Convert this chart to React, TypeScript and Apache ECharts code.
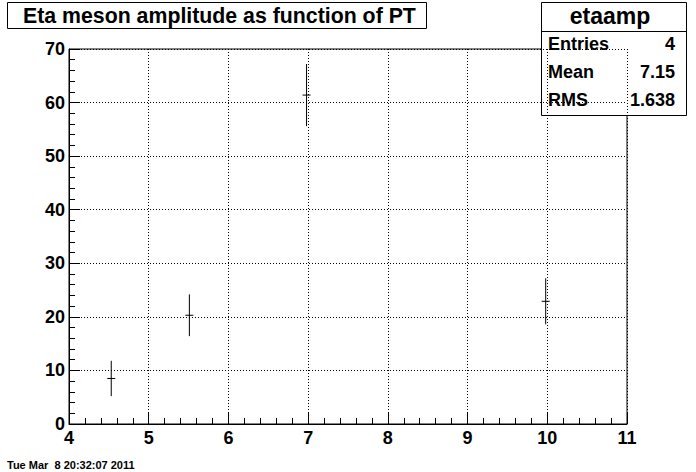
import React, { useEffect, useRef } from "react";
import * as echarts from "echarts";

const ptCenters = [4.53, 5.51, 6.98, 9.98];
const amplitudes = [8.5, 20.3, 61.4, 22.9];
const amplitudeErrors = [3.3, 3.9, 5.8, 4.3];
const statLabels = ["Entries", "Mean", "RMS"];
const statValues = ["4", "7.15", "1.638"];
const titleText = "Eta meson amplitude as function of PT";
const histName = "etaamp";
const dateText = "Tue Mar  8 20:32:07 2011";

const FONT = "'Liberation Sans', Arial, Helvetica, sans-serif";

export default function App() {
  const ref = useRef<HTMLDivElement>(null);
  useEffect(() => {
    if (!ref.current) return;
    const chart = echarts.init(ref.current, null, { renderer: "svg" });
    const data = ptCenters.map((x, i) => [x, amplitudes[i], amplitudes[i] - amplitudeErrors[i], amplitudes[i] + amplitudeErrors[i]]);
    const rowY = [44, 72, 100];
    const statGraphics: any[] = [];
    statLabels.forEach((lab, i) => {
      statGraphics.push({
        type: "text",
        x: 548,
        y: rowY[i],
        style: { text: lab, font: `bold 18px ${FONT}`, fill: "#000", verticalAlign: "middle" },
      });
      statGraphics.push({
        type: "text",
        x: 675,
        y: rowY[i],
        style: { text: statValues[i], font: `bold 18px ${FONT}`, fill: "#000", align: "right", verticalAlign: "middle" },
      });
    });
    chart.setOption({
      animation: false,
      backgroundColor: "#fff",
      grid: {
        left: 69,
        right: 69,
        top: 49,
        bottom: 48,
        show: true,
        borderColor: "#000",
        borderWidth: 1,
        backgroundColor: "transparent",
      },
      xAxis: {
        type: "value",
        min: 4,
        max: 11,
        interval: 1,
        axisLine: { show: true, onZero: false, lineStyle: { color: "#000", width: 1 } },
        axisTick: { show: true, inside: true, length: 11, lineStyle: { color: "#000" } },
        minorTick: { show: true, splitNumber: 5, length: 6, lineStyle: { color: "#000" } },
        splitLine: { show: true, lineStyle: { color: "#000", type: [1, 2], width: 1 } },
        axisLabel: { color: "#000", fontFamily: FONT, fontWeight: "bold", fontSize: 18, margin: 5 },
      },
      yAxis: {
        type: "value",
        min: 0,
        max: 70,
        interval: 10,
        axisLine: { show: true, onZero: false, lineStyle: { color: "#000", width: 1 } },
        axisTick: { show: true, inside: true, length: 11, lineStyle: { color: "#000" } },
        minorTick: { show: true, splitNumber: 5, length: 6, lineStyle: { color: "#000" } },
        splitLine: { show: true, lineStyle: { color: "#000", type: [1, 2], width: 1 } },
        axisLabel: { color: "#000", fontFamily: FONT, fontWeight: "bold", fontSize: 18, margin: 4 },
      },
      series: [
        {
          type: "custom",
          data,
          encode: { x: 0, y: [1, 2, 3] },
          renderItem: (params: any, api: any) => {
            const x = api.value(0);
            const c = api.coord([x, api.value(1)]);
            const lo = api.coord([x, api.value(2)]);
            const hi = api.coord([x, api.value(3)]);
            const st = { stroke: "#000", lineWidth: 1 };
            return {
              type: "group",
              children: [
                { type: "line", shape: { x1: c[0], y1: hi[1], x2: c[0], y2: lo[1] }, style: st },
                { type: "line", shape: { x1: c[0] - 4, y1: c[1], x2: c[0] + 4, y2: c[1] }, style: st },
              ],
            };
          },
        },
      ],
      graphic: [
        {
          type: "rect",
          shape: { x: 7.5, y: 2.5, width: 419, height: 26 },
          style: { fill: "#fff", stroke: "#000", lineWidth: 1 },
        },
        {
          type: "text",
          x: 23,
          y: 16,
          style: { text: titleText, font: `bold 21.3px ${FONT}`, fill: "#000", verticalAlign: "middle" },
        },
        {
          type: "rect",
          shape: { x: 541.5, y: 2.5, width: 145, height: 113 },
          style: { fill: "#fff", stroke: "#000", lineWidth: 1 },
        },
        {
          type: "line",
          shape: { x1: 541.5, y1: 31.5, x2: 686.5, y2: 31.5 },
          style: { stroke: "#000", lineWidth: 1 },
        },
        {
          type: "text",
          x: 610,
          y: 16,
          style: { text: histName, font: `bold 23px ${FONT}`, fill: "#000", align: "center", verticalAlign: "middle" },
        },
        ...statGraphics,
        {
          type: "text",
          x: 7,
          y: 465,
          style: { text: dateText, font: `bold 11px ${FONT}`, fill: "#000", verticalAlign: "middle" },
        },
      ],
    });
    return () => chart.dispose();
  }, []);
  return <div ref={ref} style={{ position: "fixed", left: 0, top: 0, width: 696, height: 472, background: "#fff" }} />;
}
